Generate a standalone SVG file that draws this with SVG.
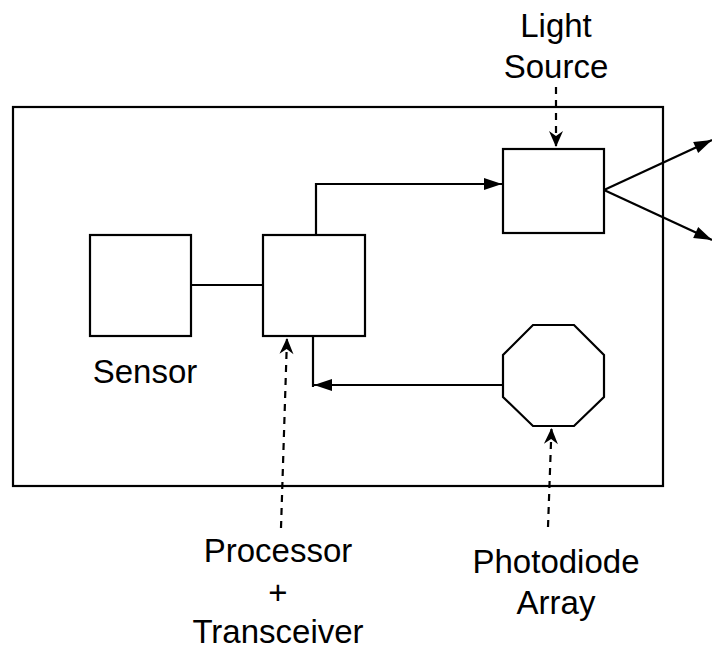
<svg xmlns="http://www.w3.org/2000/svg" width="712" height="648" viewBox="0 0 712 648">
<style>
.s{fill:none;stroke:#000;stroke-width:2.2}
.b{fill:#fff;stroke:#000;stroke-width:2.2}
.d{fill:none;stroke:#000;stroke-width:2.2;stroke-dasharray:7 6}
text{font-family:"Liberation Sans",Arial,sans-serif;font-size:33px;fill:#000;text-anchor:middle}
</style>
<defs>
<marker id="a" markerUnits="userSpaceOnUse" markerWidth="18" markerHeight="12" refX="18" refY="6" orient="auto" overflow="visible">
<path d="M0,0 L18,6 L0,12 z" fill="#000"/>
</marker>
<marker id="c" markerUnits="userSpaceOnUse" markerWidth="16" markerHeight="14" refX="16" refY="7" orient="auto" overflow="visible">
<path d="M0,0 L16,7 L0,14 L5,7 z" fill="#000"/>
</marker>
</defs>
<rect id="enclosure" x="13" y="107" width="650" height="379" class="s"/>
<g id="connectors">
<line x1="191" y1="285" x2="263" y2="285" class="s"/>
<polyline points="316,235 316,184 502,184" class="s" marker-end="url(#a)"/>
<line x1="313" y1="336" x2="313" y2="387" class="s"/>
<line x1="503" y1="385" x2="314" y2="385" class="s" marker-end="url(#a)"/>
<line x1="604" y1="190" x2="712" y2="140" class="s" marker-end="url(#a)"/>
<line x1="604" y1="190" x2="712" y2="240" class="s" marker-end="url(#a)"/>
<line x1="556" y1="87" x2="556" y2="147" class="d" marker-end="url(#c)"/>
<line x1="281" y1="528" x2="287" y2="338" class="d" marker-end="url(#c)"/>
<line x1="548" y1="527" x2="551.5" y2="428" class="d" marker-end="url(#c)"/>
</g>
<g id="sensor">
<rect x="90" y="235" width="101" height="101" class="b"/>
<text x="145" y="383">Sensor</text>
</g>
<g id="processor">
<rect x="263" y="235" width="102" height="101" class="b"/>
<text x="278" y="562">Processor</text>
<text x="278" y="604">+</text>
<text x="278" y="643">Transceiver</text>
</g>
<g id="light-source">
<rect x="503" y="149" width="101" height="84" class="b"/>
<text x="556" y="37">Light</text>
<text x="556" y="78">Source</text>
</g>
<g id="photodiode-array">
<polygon points="533,325 574,325 604,355 604,397 574,426 533,426 503,397 503,355" class="b"/>
<text x="556" y="573">Photodiode</text>
<text x="556" y="614">Array</text>
</g>
</svg>
